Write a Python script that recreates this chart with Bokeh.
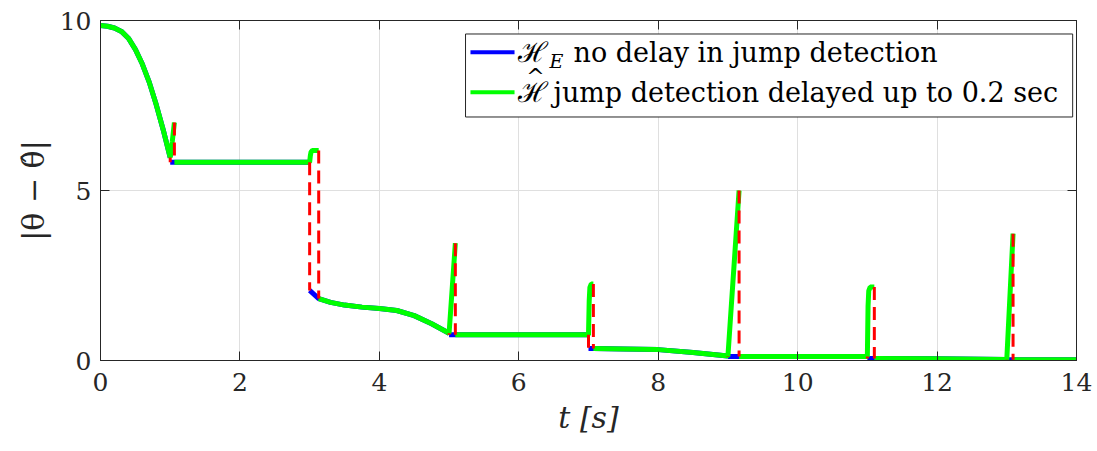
import numpy as np
from bokeh.plotting import figure
from bokeh.models import Range1d, FixedTicker, LinearAxis, Label, BoxAnnotation
from bokeh.embed import file_html
from bokeh.resources import INLINE

# ---------------- data ----------------
x_ticks = [0, 2, 4, 6, 8, 10, 12, 14]
y_ticks = [0, 5, 10]

# shared flow pieces
t_init = [0.0, 0.1, 0.2, 0.3, 0.4, 0.5, 0.6, 0.7, 0.8, 0.9, 1.0]
e_init = [9.85, 9.83, 9.78, 9.68, 9.48, 9.15, 8.72, 8.18, 7.52, 6.78, 5.97]
t_mid = [3.13, 3.3, 3.5, 3.75, 4.0, 4.25, 4.5, 4.75, 5.0]
e_mid = [1.82, 1.71, 1.63, 1.57, 1.53, 1.47, 1.32, 1.08, 0.80]
t_late = [7.07, 7.5, 8.0, 8.5, 9.0]
e_late = [0.35, 0.34, 0.32, 0.235, 0.13]

# H_E : no delay in jump detection (flows between jumps)
hE_t = [t_init, [1.0, 3.0], [3.0] + t_mid, [5.0, 7.0], [7.0] + t_late,
        [9.0, 11.0], [11.0, 12.0, 13.0], [13.0, 14.0]]
hE_e = [e_init, [5.83, 5.83], [2.06] + e_mid, [0.755, 0.755], [0.35] + e_late,
        [0.12, 0.12], [0.06, 0.05, 0.03], [0.02, 0.02]]

# H-hat : jump detection delayed up to 0.2 s
hH_t = [t_init + [1.03, 1.06],
        [1.06, 3.0, 3.01, 3.02, 3.04, 3.13],
        t_mid + [5.09],
        [5.09, 7.0, 7.01, 7.02, 7.04, 7.07],
        t_late + [9.16],
        [9.16, 11.0, 11.01, 11.02, 11.04, 11.10],
        [11.10, 12.0, 13.0, 13.09],
        [13.09, 14.0]]
hH_e = [e_init + [6.45, 7.0],
        [5.83, 5.83, 6.02, 6.13, 6.18, 6.18],
        e_mid + [3.45],
        [0.755, 0.755, 1.75, 2.15, 2.25, 2.25],
        e_late + [5.0],
        [0.12, 0.12, 1.6, 2.05, 2.16, 2.16],
        [0.06, 0.05, 0.03, 3.73],
        [0.02, 0.02]]

# jumps (red dashed)
jE_t = [1.0, 3.0, 5.0, 7.0, 9.0, 11.0, 13.0]
jE_pre = [5.97, 5.83, 0.80, 0.755, 0.13, 0.12, 0.03]
jE_post = [5.83, 2.06, 0.755, 0.35, 0.12, 0.06, 0.02]
jH_t = [1.06, 3.13, 5.09, 7.07, 9.16, 11.10, 13.09]
jH_pre = [7.0, 6.18, 3.45, 2.25, 5.0, 2.16, 3.73]
jH_post = [5.83, 1.82, 0.755, 0.35, 0.12, 0.06, 0.02]

legend_labels = ["no delay in jump detection", "jump detection delayed up to 0.2 sec"]


def join(pieces):
    out = []
    for i, seg in enumerate(pieces):
        if i:
            out.append(np.nan)
        out.extend(seg)
    return out


FONT = "DejaVu Serif"
AX = "#262626"

p = figure(frame_width=976, frame_height=340,
           x_range=Range1d(0, 14), y_range=Range1d(0, 10),
           output_backend="svg", toolbar_location=None,
           min_border_left=100, min_border_right=21,
           min_border_top=20, min_border_bottom=91)
p.background_fill_color = "white"
p.border_fill_color = "white"
p.outline_line_color = AX

p.xaxis.ticker = FixedTicker(ticks=x_ticks)
p.yaxis.ticker = FixedTicker(ticks=y_ticks)
p.xgrid.ticker = FixedTicker(ticks=x_ticks)
p.ygrid.ticker = FixedTicker(ticks=y_ticks)
p.grid.grid_line_color = "#dfdfdf"

for ax in (p.xaxis[0], p.yaxis[0]):
    ax.major_label_text_font = FONT
    ax.major_label_text_font_size = "25px"
    ax.major_label_text_color = AX
    ax.axis_line_color = AX
    ax.major_tick_line_color = AX
    ax.major_tick_in = 9
    ax.major_tick_out = 0
    ax.minor_tick_line_color = None
    ax.axis_label_text_font = FONT
    ax.axis_label_text_font_size = "30px"
    ax.axis_label_text_color = AX
p.xaxis.major_label_standoff = 12
p.yaxis.major_label_standoff = 9

p.yaxis.axis_label = "|θ − θ̂|"
p.yaxis.axis_label_text_font_style = "normal"
p.yaxis.axis_label_standoff = 6
p.xaxis.axis_label = "t [s]"
p.xaxis.axis_label_text_font_style = "italic"
p.xaxis.axis_label_standoff = 6

# mirrored ticks on top and right (box on), without labels
top_ax = LinearAxis(ticker=FixedTicker(ticks=x_ticks), major_label_text_font_size="1px",
                    major_label_text_color=None,
                    major_tick_in=9, major_tick_out=0, minor_tick_line_color=None,
                    axis_line_color=AX, major_tick_line_color=AX, major_label_standoff=0)
right_ax = LinearAxis(ticker=FixedTicker(ticks=y_ticks), major_label_text_font_size="1px",
                      major_label_text_color=None,
                      major_tick_in=9, major_tick_out=0, minor_tick_line_color=None,
                      axis_line_color=AX, major_tick_line_color=AX, major_label_standoff=0)
p.add_layout(top_ax, "above")
p.add_layout(right_ax, "right")

# curves
p.line(join(hE_t), join(hE_e), line_color="#0000ff", line_width=5)
p.line(join(hH_t), join(hH_e), line_color="#00ff00", line_width=5)
p.segment(x0=jE_t, y0=jE_pre, x1=jE_t, y1=jE_post, line_color="#ff0000",
          line_width=3, line_dash="13 7")
p.segment(x0=jH_t, y0=jH_pre, x1=jH_t, y1=jH_post, line_color="#ff0000",
          line_width=3, line_dash="13 7")

# legend box (custom, to render the sub/superscripted H)
p.add_layout(BoxAnnotation(left=5.236, right=13.945, top=9.603, bottom=7.162,
                           fill_color="white", fill_alpha=1.0,
                           line_color=AX, line_width=1, line_alpha=1.0))
row_y = [9.068, 7.891]
p.line([5.307, 5.939], [row_y[0]] * 2, line_color="#0000ff", line_width=4, level="overlay")
p.line([5.307, 5.939], [row_y[1]] * 2, line_color="#00ff00", line_width=4, level="overlay")
p.add_layout(Label(x=5.99, y=row_y[0], text="ℋ", text_baseline="middle",
                   text_font=FONT, text_font_size="28px", text_color="black"))
p.add_layout(Label(x=6.44, y=row_y[0] - 0.25, text="E", text_baseline="middle",
                   text_font=FONT, text_font_size="19px", text_font_style="italic",
                   text_color="black"))
p.add_layout(Label(x=6.785, y=row_y[0], text=legend_labels[0], text_baseline="middle",
                   text_font=FONT, text_font_size="27px", text_color="black"))
p.add_layout(Label(x=5.99, y=row_y[1], text="ℋ", text_baseline="middle",
                   text_font=FONT, text_font_size="28px", text_color="black"))
p.add_layout(Label(x=6.24, y=row_y[1] + 0.45, text="^", text_align="center",
                   text_baseline="middle",
                   text_font=FONT, text_font_size="22px", text_color="black"))
p.add_layout(Label(x=6.498, y=row_y[1], text=legend_labels[1], text_baseline="middle",
                   text_font=FONT, text_font_size="27px", text_color="black"))

open("out.html", "w").write(file_html(p, INLINE))
